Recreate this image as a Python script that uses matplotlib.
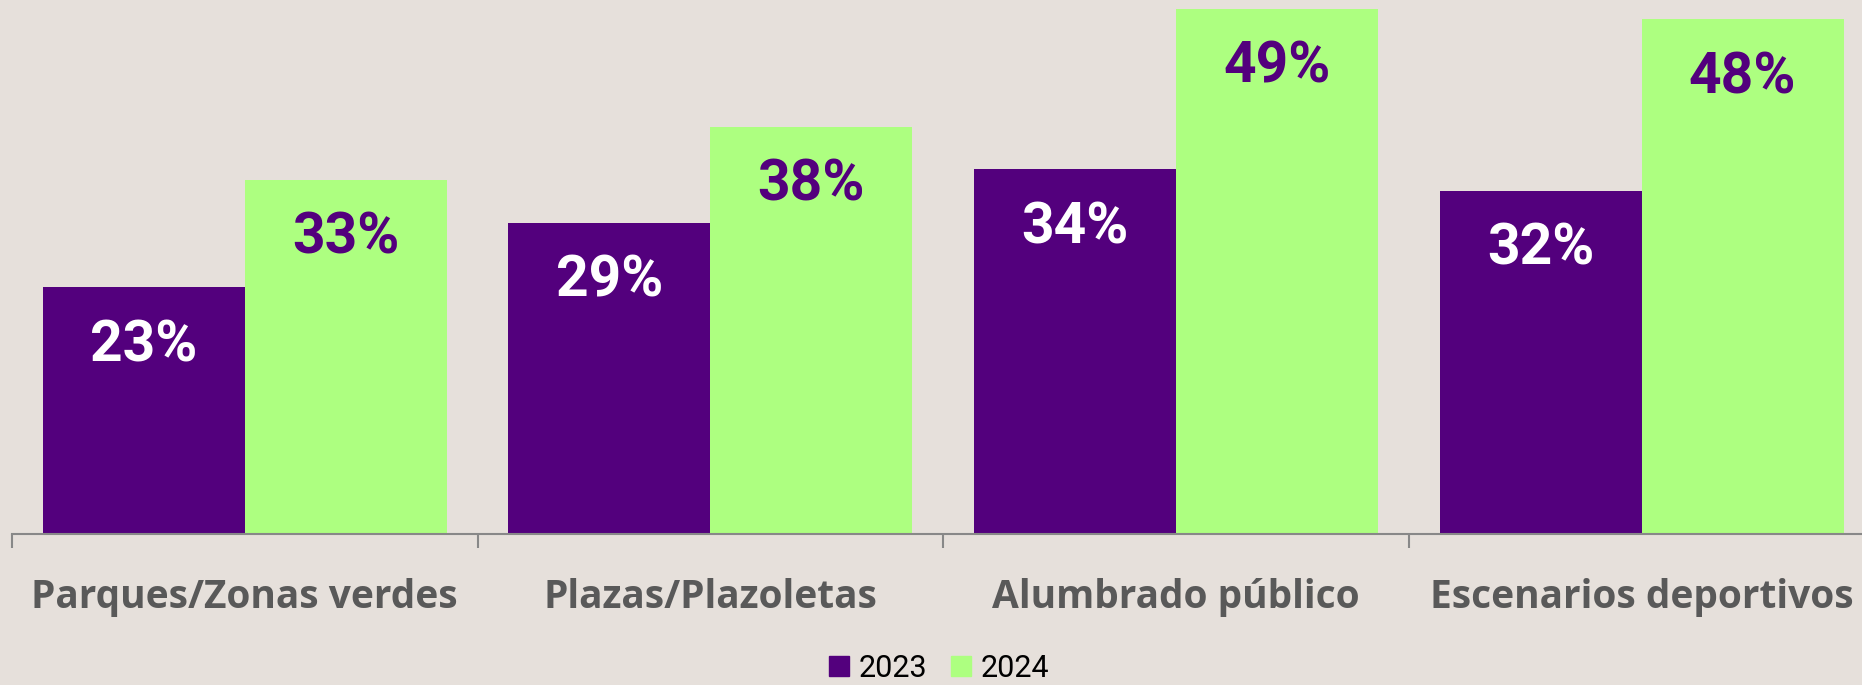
import matplotlib.pyplot as plt
from matplotlib.patches import Patch
import numpy as np

categorias = ["Parques/Zonas verdes", "Plazas/Plazoletas", "Alumbrado público", "Escenarios deportivos"]
anios = ["2023", "2024"]
valores_2023 = [23, 29, 34, 32]
valores_2024 = [33, 38, 49, 48]

morado = "#53007D"
verde = "#ADFF80"
fondo = "#E6E0DB"
gris = "#595959"

fig = plt.figure(figsize=(18.62, 6.85), dpi=100)
fig.patch.set_facecolor(fondo)
ax = fig.add_axes([12 / 1862, 151 / 685, 1862.4 / 1862, 534 / 685])
ax.set_facecolor(fondo)

x = np.arange(len(categorias))
ancho = 0.4337
b1 = ax.bar(x - ancho / 2, valores_2023, ancho, color=morado)
b2 = ax.bar(x + ancho / 2, valores_2024, ancho, color=verde)

for barras, vals, col in [(b1, valores_2023, "white"), (b2, valores_2024, morado)]:
    for rect, v in zip(barras, vals):
        ax.annotate(f"{v}%", (rect.get_x() + rect.get_width() / 2, v),
                    xytext=(0, -42), textcoords="offset points",
                    ha="center", va="center", fontsize=41,
                    fontweight="bold", family="Roboto", color=col)

ax.set_xlim(-0.5, len(categorias) - 0.5)
ax.set_ylim(0, 49.8)
ax.set_yticks([])
for s in ["top", "right", "left"]:
    ax.spines[s].set_visible(False)
ax.spines["bottom"].set_color("#888888")
ax.spines["bottom"].set_linewidth(1.5)

ax.set_xticks(x)
ax.set_xticklabels(categorias, fontsize=28, fontweight="bold", family="Open Sans", color=gris)
ax.tick_params(axis="x", which="major", length=0, pad=32)
ax.set_xticks(np.arange(len(categorias) + 1) - 0.5, minor=True)
ax.tick_params(axis="x", which="minor", length=10, width=1.5, color="#888888")

# leyenda pegada al borde inferior
handles = [Patch(color=morado, label=anios[0]), Patch(color=verde, label=anios[1])]
fig.legend(handles=handles, loc="lower center", bbox_to_anchor=(0.5043, -0.037), ncol=2,
           frameon=False, handlelength=0.65, handleheight=0.65,
           handletextpad=0.3, columnspacing=0.8, prop={"family": "Roboto", "size": 22})

fig.savefig("out.png", dpi=100, facecolor=fondo)
